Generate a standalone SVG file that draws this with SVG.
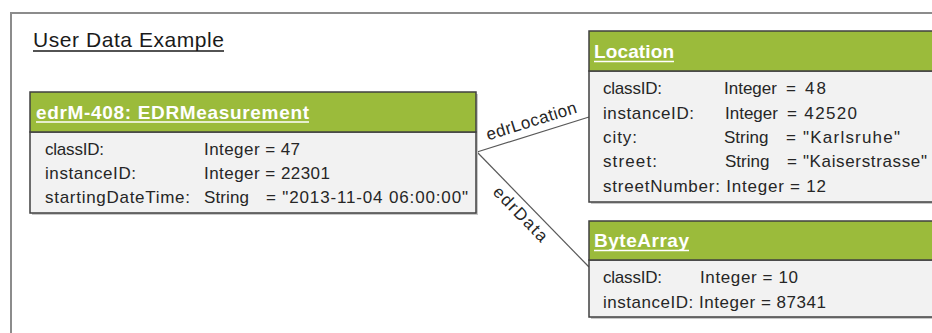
<svg xmlns="http://www.w3.org/2000/svg" width="932" height="333" viewBox="0 0 932 333">
<style>
  .frame { fill: none; stroke: #8c8c8c; stroke-width: 2; }
  .shadow { fill: #c8c8c8; }
  .head { fill: #9bbb3b; stroke: #404040; stroke-width: 1.5; }
  .body { fill: #f2f2f2; stroke: #404040; stroke-width: 1.5; }
  .htxt { font-family: "Liberation Sans", Arial, sans-serif; font-size: 19px; font-weight: bold; fill: #ffffff; }
  .hul { stroke: #ffffff; stroke-width: 1.3; }
  .txt { font-family: "Liberation Sans", Arial, sans-serif; font-size: 17px; fill: #262626; }
  .title { font-family: "Liberation Sans", Arial, sans-serif; font-size: 21px; fill: #1a1a1a; }
  .tul { stroke: #1a1a1a; stroke-width: 1.3; }
  .conn { stroke: #595959; stroke-width: 1.2; fill: none; }
  .clbl { font-family: "Liberation Sans", Arial, sans-serif; font-size: 17px; fill: #262626; }
</style>
<rect width="932" height="333" fill="#ffffff"/>
<path class="frame" d="M11 340 V13 H940"/>
<text class="title" x="33" y="47" textLength="191" lengthAdjust="spacing">User Data Example</text>
<line class="tul" x1="33" y1="51" x2="224" y2="51"/>

<g id="connectors">
  <line class="conn" x1="477" y1="152" x2="589" y2="117"/>
  <line class="conn" x1="477" y1="152" x2="589" y2="267"/>
  <text class="clbl" text-anchor="middle" transform="translate(533,126.5) rotate(-17.4)" textLength="94" lengthAdjust="spacing">edrLocation</text>
  <text class="clbl" text-anchor="middle" transform="translate(516.5,218) rotate(45.8)" textLength="70" lengthAdjust="spacing">edrData</text>
</g>

<g id="edrMeasurement">
  <rect class="shadow" x="32" y="94" width="446" height="121"/>
  <rect class="body" x="30" y="132" width="446" height="81"/>
  <rect class="head" x="30" y="92" width="446" height="40"/>
  <text class="htxt" x="36" y="118.5" textLength="273" lengthAdjust="spacing">edrM-408: EDRMeasurement</text>
  <line class="hul" x1="36" y1="122" x2="309" y2="122"/>
  <text class="txt" x="45" y="154.5" textLength="59" lengthAdjust="spacing">classID:</text>
  <text class="txt" x="204" y="154.5" textLength="96" lengthAdjust="spacing">Integer = 47</text>
  <text class="txt" x="45" y="178.5" textLength="91" lengthAdjust="spacing">instanceID:</text>
  <text class="txt" x="204" y="178.5" textLength="126" lengthAdjust="spacing">Integer = 22301</text>
  <text class="txt" x="45" y="203" textLength="145" lengthAdjust="spacing">startingDateTime:</text>
  <text class="txt" x="204" y="203" textLength="45" lengthAdjust="spacing">String</text>
  <text class="txt" x="266" y="203" textLength="202" lengthAdjust="spacing">= "2013-11-04 06:00:00"</text>
</g>

<g id="location">
  <rect class="shadow" x="591" y="33" width="360" height="171"/>
  <rect class="body" x="589" y="71" width="360" height="131"/>
  <rect class="head" x="589" y="31" width="360" height="40"/>
  <text class="htxt" x="594" y="58" textLength="80" lengthAdjust="spacing">Location</text>
  <line class="hul" x1="594" y1="61.5" x2="674" y2="61.5"/>
  <text class="txt" x="603" y="94" textLength="59" lengthAdjust="spacing">classID:</text>
  <text class="txt" x="724" y="94">Integer</text>
  <text class="txt" x="786" y="94" textLength="40" lengthAdjust="spacing">= 48</text>
  <text class="txt" x="603" y="118.5" textLength="91" lengthAdjust="spacing">instanceID:</text>
  <text class="txt" x="725" y="118.5">Integer</text>
  <text class="txt" x="787" y="118.5" textLength="70" lengthAdjust="spacing">= 42520</text>
  <text class="txt" x="603" y="143" textLength="34" lengthAdjust="spacing">city:</text>
  <text class="txt" x="724" y="143">String</text>
  <text class="txt" x="786" y="143" textLength="114" lengthAdjust="spacing">= "Karlsruhe"</text>
  <text class="txt" x="603" y="167.3" textLength="54" lengthAdjust="spacing">street:</text>
  <text class="txt" x="725" y="167.3">String</text>
  <text class="txt" x="787" y="167.3" textLength="140" lengthAdjust="spacing">= "Kaiserstrasse"</text>
  <text class="txt" x="603" y="191.7" textLength="223" lengthAdjust="spacing">streetNumber: Integer = 12</text>
</g>

<g id="byteArray">
  <rect class="shadow" x="591" y="223" width="360" height="96"/>
  <rect class="body" x="589" y="260" width="360" height="57"/>
  <rect class="head" x="589" y="221" width="360" height="39"/>
  <text class="htxt" x="594" y="247" textLength="95" lengthAdjust="spacing">ByteArray</text>
  <line class="hul" x1="594" y1="250.5" x2="689" y2="250.5"/>
  <text class="txt" x="603" y="283" textLength="59" lengthAdjust="spacing">classID:</text>
  <text class="txt" x="700" y="283" textLength="98" lengthAdjust="spacing">Integer = 10</text>
  <text class="txt" x="603" y="307.5" textLength="223" lengthAdjust="spacing">instanceID: Integer = 87341</text>
</g>
</svg>
